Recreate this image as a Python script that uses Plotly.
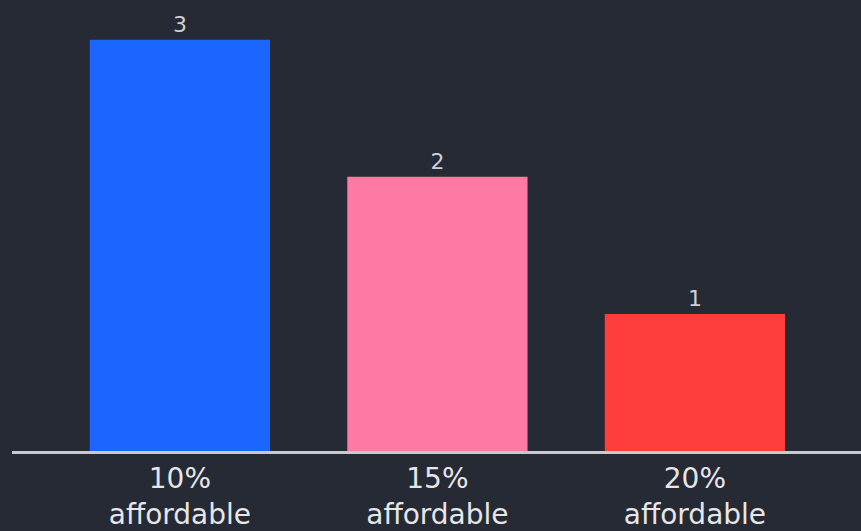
import plotly.graph_objects as go

# Chart data
categories = ["10%<br>affordable", "15%<br>affordable", "20%<br>affordable"]
counts = [3, 2, 1]
bar_colors = ["#1a66ff", "#ff7aa3", "#ff3d3d"]

BG = "#262a34"

fig = go.Figure(
    go.Bar(
        x=[0, 1, 2],
        y=counts,
        marker=dict(color=bar_colors, line=dict(width=0)),
        text=[str(v) for v in counts],
        textposition="outside",
        textfont=dict(family="DejaVu Sans", size=22, color="#cfd0d4"),
        cliponaxis=False,
        width=0.70,
    )
)

fig.update_layout(
    width=861,
    height=531,
    margin=dict(l=12, r=0, t=0, b=80),
    paper_bgcolor=BG,
    plot_bgcolor=BG,
    showlegend=False,
    font=dict(family="DejaVu Sans", color="#e6e6e8"),
    xaxis=dict(
        range=[-0.652, 2.645],
        tickmode="array",
        tickvals=[0, 1, 2],
        ticktext=categories,
        tickfont=dict(family="DejaVu Sans", size=28, color="#e6e6e8"),
        showgrid=False,
        zeroline=False,
        showline=True,
        linecolor="#c9cacd",
        linewidth=3,
        ticks="",
        fixedrange=True,
    ),
    yaxis=dict(
        range=[0, 3.29],
        visible=False,
        showgrid=False,
        zeroline=False,
        fixedrange=True,
    ),
)

fig.write_html("out.html")
